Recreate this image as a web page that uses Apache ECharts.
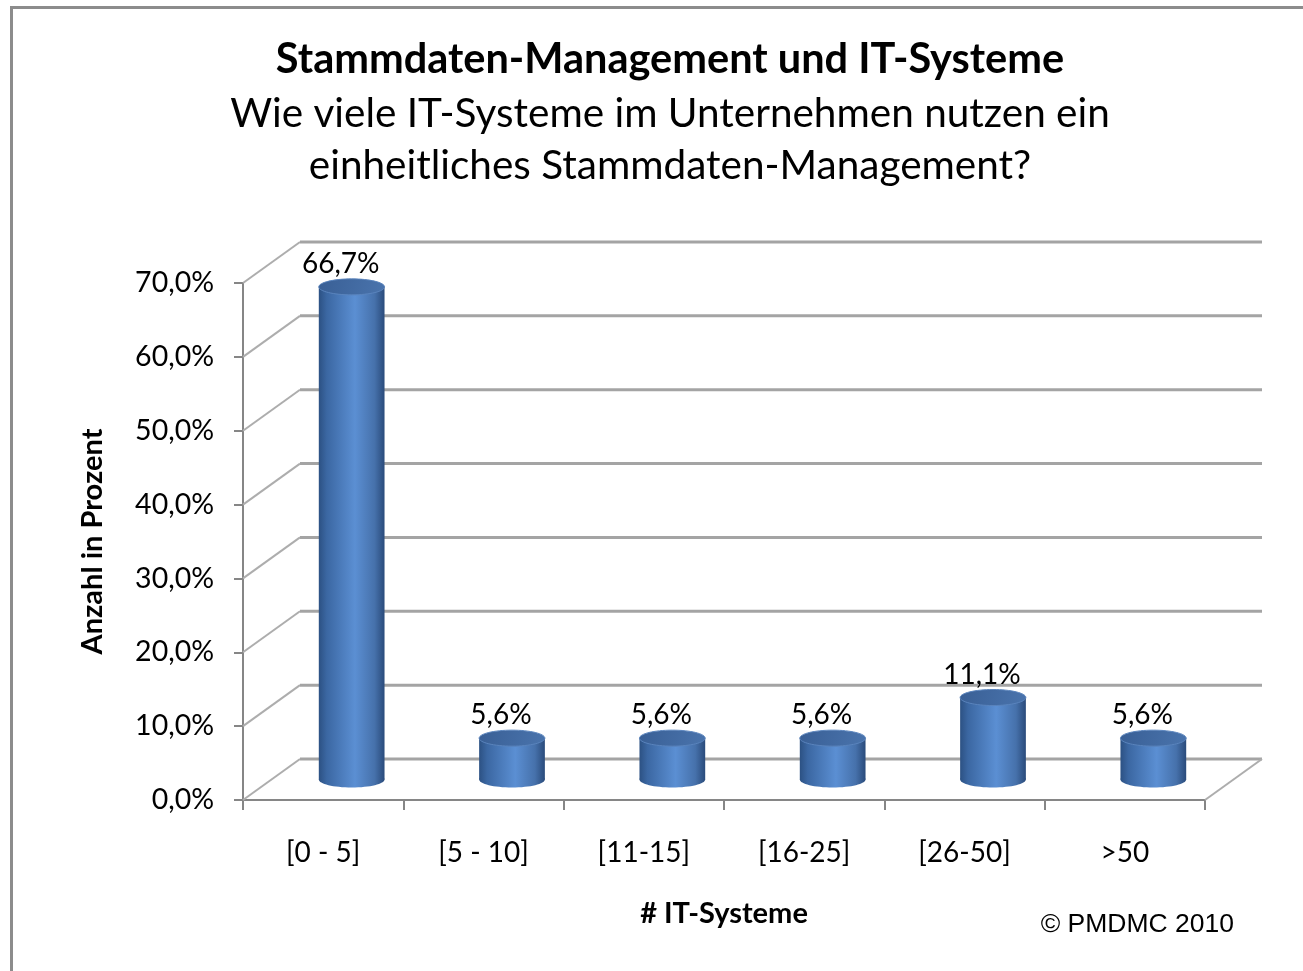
<!DOCTYPE html>
<html>
<head>
<meta charset="utf-8">
<script src="https://cdn.jsdelivr.net/npm/echarts@6/dist/echarts.min.js"></script>
<style>
html,body{margin:0;padding:0;background:#fff;}
#chart{width:1303px;height:971px;}
</style>
</head>
<body>
<div id="chart"></div>
<script>
const titleText = 'Stammdaten-Management und IT-Systeme';
const subtitleText = 'Wie viele IT-Systeme im Unternehmen nutzen ein\neinheitliches Stammdaten-Management?';
const categories = ['[0 - 5]', '[5 - 10]', '[11-15]', '[16-25]', '[26-50]', '>50'];
const values = [66.7, 5.6, 5.6, 5.6, 11.1, 5.6];
const yTicks = [0, 10, 20, 30, 40, 50, 60, 70];
const yAxisName = 'Anzahl in Prozent';
const xAxisName = '# IT-Systeme';
const copyright = '\u00A9 PMDMC 2010';

const FONT = 'Lato';
const DX = 57, DY = -41;
const fmt = v => v.toFixed(1).replace('.', ',') + '%';

const chart = echarts.init(document.getElementById('chart'));

function wallItem(params, api) {
  const cs = params.coordSys;
  const v = api.value(1);
  const y = api.coord([0, v])[1];
  const x0 = cs.x, x1 = cs.x + cs.width;
  const children = [
    {type: 'line', shape: {x1: x0, y1: y, x2: x0 + DX, y2: y + DY},
     style: {stroke: '#adadad', lineWidth: 2}},
    {type: 'line', shape: {x1: x0 + DX, y1: y + DY, x2: x1 + DX, y2: y + DY},
     style: {stroke: '#a4a4a4', lineWidth: 3}}
  ];
  if (v === 0) {
    children.push({type: 'line', shape: {x1: x1, y1: y, x2: x1 + DX, y2: y + DY},
      style: {stroke: '#adadad', lineWidth: 2}});
  }
  return {type: 'group', children};
}

function cylItem(params, api) {
  const i = api.value(0), v = api.value(1);
  const top = api.coord([i, v]);
  const base = api.coord([i, 0]);
  const bw = api.size([1, 0])[0] * 0.41;
  const cx = top[0] + DX / 2;
  const ty = top[1] + DY / 2;
  const by = base[1] + DY / 2;
  const rx = bw / 2, ry = 8;
  const bodyFill = {
    type: 'linear', x: 0, y: 0, x2: 1, y2: 0,
    colorStops: [
      {offset: 0, color: '#2c5183'},
      {offset: 0.12, color: '#3b67a2'},
      {offset: 0.55, color: '#5b8fd3'},
      {offset: 0.85, color: '#4671ab'},
      {offset: 1, color: '#2a4b7b'}
    ]
  };
  const topFill = {
    type: 'linear', x: 0, y: 0, x2: 1, y2: 1,
    colorStops: [
      {offset: 0, color: '#395f95'},
      {offset: 1, color: '#4a74ad'}
    ]
  };
  return {
    type: 'group',
    children: [
      {type: 'ellipse', shape: {cx: cx, cy: by, rx: rx, ry: ry}, style: {fill: bodyFill}},
      {type: 'rect', shape: {x: cx - rx, y: ty, width: bw, height: by - ty}, style: {fill: bodyFill}},
      {type: 'ellipse', shape: {cx: cx, cy: ty, rx: rx, ry: ry},
       style: {fill: topFill, stroke: '#5a84bd', lineWidth: 1}},
      {type: 'text', x: cx - 11, y: ty - ry - 1,
       style: {text: fmt(v), fontFamily: FONT, fontSize: 28, fill: '#000',
               align: 'center', verticalAlign: 'bottom'}}
    ]
  };
}

chart.setOption({
  backgroundColor: '#fff',
  animation: false,
  title: [
    {text: titleText, left: 665, top: 30, textAlign: 'center',
     textStyle: {fontFamily: FONT, fontSize: 41.5, fontWeight: 'bold', color: '#000', lineHeight: 50}},
    {text: subtitleText, left: 665, top: 83, textAlign: 'center',
     textStyle: {fontFamily: FONT, fontSize: 40.5, fontWeight: 'normal', color: '#000', lineHeight: 52}},
    {text: copyright, right: 64, top: 906,
     textStyle: {fontFamily: 'Liberation Sans', fontSize: 26.5, fontWeight: 'normal', color: '#000'}}
  ],
  graphic: [
    {type: 'polyline', shape: {points: [[11.5, 971], [11.5, 7.5], [1303, 7.5]]},
     style: {stroke: '#8c8c8c', lineWidth: 3, fill: null}}
  ],
  grid: {left: 243, right: 98, top: 283, bottom: 171},
  xAxis: {
    type: 'category', data: categories,
    axisLine: {show: true, lineStyle: {color: '#868686', width: 2}},
    axisTick: {show: true, length: 10, alignWithLabel: false, lineStyle: {color: '#868686', width: 2}},
    axisLabel: {fontFamily: FONT, fontSize: 28, color: '#000', margin: 39},
    name: xAxisName, nameLocation: 'middle', nameGap: 99,
    nameTextStyle: {fontFamily: FONT, fontSize: 29, fontWeight: 'bold', color: '#000'}
  },
  yAxis: {
    type: 'value', min: 0, max: 70, interval: 10,
    axisLine: {show: true, lineStyle: {color: '#868686', width: 2}},
    axisTick: {show: true, length: 9, lineStyle: {color: '#868686', width: 2}},
    splitLine: {show: false},
    axisLabel: {fontFamily: FONT, fontSize: 28.5, color: '#000', margin: 29, formatter: fmt},
    name: yAxisName, nameLocation: 'middle', nameGap: 136, nameRotate: 90,
    nameTextStyle: {fontFamily: FONT, fontSize: 29, fontWeight: 'bold', color: '#000'}
  },
  series: [
    {type: 'custom', coordinateSystem: 'cartesian2d', z: 1,
     data: yTicks.map(v => [0, v]), renderItem: wallItem, silent: true},
    {type: 'custom', coordinateSystem: 'cartesian2d', z: 5,
     data: values.map((v, i) => [i, v]), renderItem: cylItem, silent: true}
  ]
});
</script>
</body>
</html>
